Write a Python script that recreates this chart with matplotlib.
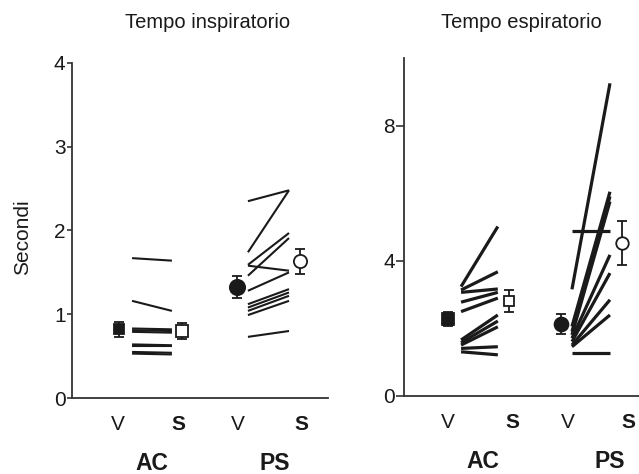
import matplotlib
matplotlib.use('Agg')
import matplotlib.pyplot as plt

plt.rcParams['font.family'] = ['Liberation Sans', 'DejaVu Sans']

# paired values per subject
insp_ac_v = [1.67, 1.16, 0.83, 0.81, 0.79, 0.64, 0.62, 0.55, 0.53]
insp_ac_s = [1.64, 1.04, 0.82, 0.80, 0.78, 0.63, 0.62, 0.54, 0.52]
insp_ps_v = [2.35, 1.74, 1.59, 1.46, 1.58, 1.28, 1.12, 1.08, 1.04, 0.99, 0.73]
insp_ps_s = [2.48, 2.48, 1.97, 1.91, 1.52, 1.50, 1.30, 1.26, 1.22, 1.16, 0.80]

esp_ac_v = [3.23, 3.13, 3.06, 2.77, 2.49, 1.65, 1.57, 1.50, 1.40, 1.30]
esp_ac_s = [5.01, 3.67, 3.16, 3.06, 2.89, 2.39, 2.21, 2.04, 1.45, 1.21]
esp_ps_v = [3.15, 4.88, 1.26, 2.05, 1.90, 1.80, 1.70, 1.60, 1.50, 1.45]
esp_ps_s = [9.25, 4.88, 1.26, 6.04, 5.90, 5.75, 4.17, 3.63, 2.84, 2.39]

# group means and error (AC-V, AC-S, PS-V, PS-S)
insp_mean = [0.82, 0.80, 1.33, 1.63]
insp_err = [0.09, 0.10, 0.13, 0.15]
esp_mean = [2.27, 2.81, 2.12, 4.53]
esp_err = [0.22, 0.32, 0.30, 0.65]

titles = ['Tempo inspiratorio', 'Tempo espiratorio']
tick_labels = ['V', 'S', 'V', 'S']
groups = ['AC', 'PS']

W, H = 639, 474
fig = plt.figure(figsize=(W / 100, H / 100), dpi=100)

ax1 = fig.add_axes([72 / W, 1 - 398 / H, 256 / W, 335 / H])
ax2 = fig.add_axes([404 / W, 1 - 395.7 / H, 235 / W, 337.7 / H])

ink = '#1a1a1a'


def panel(ax, ac_v, ac_s, ps_v, ps_s, mean, err, mark_x, seg_ac, seg_ps, lw, ms):
    for a, b in zip(ac_v, ac_s):
        ax.plot(seg_ac, [a, b], color=ink, lw=lw, solid_capstyle='butt')
    for a, b in zip(ps_v, ps_s):
        ax.plot(seg_ps, [a, b], color=ink, lw=lw, solid_capstyle='butt')
    styles = [('s', ink), ('s', 'white'), ('o', ink), ('o', 'white')]
    for x, m, e, (mk, fc), sz in zip(mark_x, mean, err, styles, ms):
        ax.errorbar(x, m, yerr=e, fmt=mk, mfc=fc, mec=ink, mew=1.3, ms=sz,
                    ecolor=ink, elinewidth=1.3, capsize=3.5, capthick=1.3,
                    clip_on=False, zorder=5)


panel(ax1, insp_ac_v, insp_ac_s, insp_ps_v, insp_ps_s, insp_mean, insp_err,
      [1.02, 2.04, 2.94, 3.97], [1.23, 1.88], [3.12, 3.79], 1.5, [7.5, 8, 11, 9.5])
panel(ax2, esp_ac_v, esp_ac_s, esp_ps_v, esp_ps_s, esp_mean, esp_err,
      [1.0, 1.98, 2.81, 3.79], [1.21, 1.80], [2.99, 3.60], 2.3, [8, 7.5, 10, 9])

ax1.set_xlim(0.25, 4.426)
ax1.set_ylim(0, 4)
ax1.set_yticks([0, 1, 2, 3, 4])
ax2.set_xlim(0.294, 4.066)
ax2.set_ylim(0, 10)
ax2.set_yticks([0, 4, 8])

for ax, tl in [(ax1, 3.6), (ax2, 5.5)]:
    for s in ['top', 'right']:
        ax.spines[s].set_visible(False)
    for s in ['left', 'bottom']:
        ax.spines[s].set_color('#333333')
        ax.spines[s].set_linewidth(1.3)
    ax.set_xticks([])
    ax.tick_params(axis='y', length=tl, width=1.2, color='#333333', pad=1,
                   labelsize=15, labelcolor=ink)

# x labels (V / S under each condition, group name under each pair)
lab_x = {ax1: [1.0, 1.98, 2.96, 4.0], ax2: [1.0, 2.04, 2.93, 3.9]}
grp_x = {ax1: [1.56, 3.56], ax2: [1.56, 3.59]}
for ax in (ax1, ax2):
    for x, t in zip(lab_x[ax], tick_labels):
        ax.annotate(t, (x, 0), xycoords=('data', 'axes fraction'),
                    xytext=(0, -23), textcoords='offset points',
                    ha='center', va='baseline', fontsize=15, color=ink,
                    fontweight='bold' if t == 'S' else 'normal',
                    annotation_clip=False)
    for x, t in zip(grp_x[ax], groups):
        ax.annotate(t, (x, 0), xycoords=('data', 'axes fraction'),
                    xytext=(0, -52), textcoords='offset points',
                    ha='center', va='baseline', fontsize=16.5, color=ink,
                    fontweight='bold', annotation_clip=False)

fig.text(207.5 / W, 1 - 28.3 / H, titles[0], ha='center', va='baseline',
         fontsize=14.5, color=ink)
fig.text(521.7 / W, 1 - 28.3 / H, titles[1], ha='center', va='baseline',
         fontsize=14.5, color=ink)
fig.text(23 / W, 1 - 237 / H, 'Secondi', rotation=90, ha='center',
         va='center', fontsize=15, color=ink)

fig.savefig('out.png', dpi=100)
